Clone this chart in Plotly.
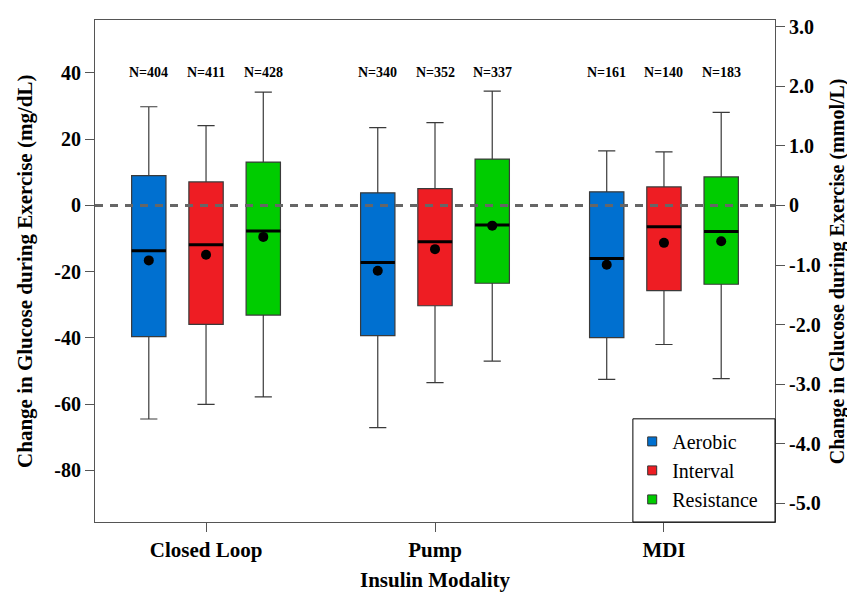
import plotly.graph_objects as go

categories = ["Closed Loop", "Pump", "MDI"]
exercise_types = ["Aerobic", "Interval", "Resistance"]
colors = ["#0070D0", "#EE1D23", "#00CC00"]

aerobic_upper = [29.8, 23.5, 16.5]
aerobic_q3 = [9.0, 3.8, 4.1]
aerobic_median = [-13.7, -17.2, -16.0]
aerobic_mean = [-16.6, -19.7, -17.9]
aerobic_q1 = [-39.6, -39.3, -39.9]
aerobic_lower = [-64.5, -67.1, -52.5]
aerobic_n = [404, 340, 161]

interval_upper = [24.1, 25.0, 16.2]
interval_q3 = [7.1, 5.1, 5.6]
interval_median = [-11.9, -11.0, -6.4]
interval_mean = [-14.9, -13.2, -11.3]
interval_q1 = [-35.9, -30.3, -25.7]
interval_lower = [-60.1, -53.5, -42.0]
interval_n = [411, 352, 140]

resistance_upper = [34.2, 34.5, 28.1]
resistance_q3 = [13.1, 14.0, 8.6]
resistance_median = [-7.7, -5.9, -7.9]
resistance_mean = [-9.5, -6.1, -10.8]
resistance_q1 = [-33.1, -23.5, -23.8]
resistance_lower = [-57.8, -47.0, -52.3]
resistance_n = [428, 337, 183]

left_ticks = [40, 20, 0, -20, -40, -60, -80]
left_tick_labels = ["40", "20", "0", "-20", "-40", "-60", "-80"]
right_ticks = [3, 2, 1, 0, -1, -2, -3, -4, -5]
right_tick_labels = ["3.0", "2.0", "1.0", "0", "-1.0", "-2.0", "-3.0", "-4.0", "-5.0"]
MGDL_PER_MMOL = 18.0
y_range = [-95.6, 56.0]

series = [
    (aerobic_upper, aerobic_q3, aerobic_median, aerobic_mean, aerobic_q1, aerobic_lower, aerobic_n),
    (interval_upper, interval_q3, interval_median, interval_mean, interval_q1, interval_lower, interval_n),
    (resistance_upper, resistance_q3, resistance_median, resistance_mean, resistance_q1, resistance_lower, resistance_n),
]
offsets = [-0.25, 0.0, 0.25]
box_w = 0.15
FONT = "Liberation Serif, Times New Roman, serif"

fig = go.Figure()
annotations = []
for k, (up, q3, med, mean, q1, low, n) in enumerate(series):
    xs = [i + 1 + offsets[k] for i in range(len(categories))]
    fig.add_trace(go.Box(
        x=xs, q1=q1, median=med, q3=q3, lowerfence=low, upperfence=up,
        width=box_w, whiskerwidth=0.5, fillcolor=colors[k],
        line=dict(color="#3a3a3a", width=1.2), showlegend=False,
        boxpoints=False, hoverinfo="skip"))
    mx, my = [], []
    for x, m in zip(xs, med):
        mx += [x - box_w / 2, x + box_w / 2, None]
        my += [m, m, None]
    fig.add_trace(go.Scatter(x=mx, y=my, mode="lines", line=dict(color="black", width=3),
                             showlegend=False, hoverinfo="skip"))
    fig.add_trace(go.Scatter(x=xs, y=mean, mode="markers", marker=dict(color="black", size=10),
                             showlegend=False, hoverinfo="skip"))
    fig.add_trace(go.Scatter(x=xs, y=[v / MGDL_PER_MMOL for v in mean], yaxis="y2", mode="markers",
                             marker=dict(opacity=0), showlegend=False, hoverinfo="skip"))
    fig.add_trace(go.Scatter(x=[None], y=[None], mode="markers", name=exercise_types[k],
                             marker=dict(symbol="square", size=9, color=colors[k],
                                         line=dict(color="#333333", width=1))))
    for x, cnt in zip(xs, n):
        annotations.append(dict(x=x, y=40, xref="x", yref="y", text=f"N={cnt}", showarrow=False,
                                font=dict(family=FONT, size=14, color="black", weight="bold")))

annotations += [
    dict(x=-0.103, y=0.5, xref="paper", yref="paper", text="Change in Glucose during Exercise (mg/dL)",
         textangle=-90, showarrow=False, xanchor="center", yanchor="middle",
         font=dict(family=FONT, size=21, color="black", weight="bold")),
    dict(x=1.0915, y=0.5, xref="paper", yref="paper", text="Change in Glucose during Exercise (mmol/L)",
         textangle=-90, showarrow=False, xanchor="center", yanchor="middle",
         font=dict(family=FONT, size=20, color="black", weight="bold")),
    dict(x=0.5, y=-0.1146, xref="paper", yref="paper", text="Insulin Modality", xanchor="center",
         yanchor="middle", showarrow=False, font=dict(family=FONT, size=21, color="black", weight="bold")),
]

axis_common = dict(showgrid=False, zeroline=False, showline=True, linecolor="#555555", linewidth=1,
                   ticks="outside", ticklen=9, tickcolor="#555555")
tick_font = dict(family=FONT, size=20, color="black", weight="bold")

fig.update_layout(
    width=855, height=584,
    margin=dict(l=87, r=88, t=8, b=70),
    paper_bgcolor="white", plot_bgcolor="white",
    boxmode="overlay",
    xaxis=dict(range=[0.515, 3.485], tickvals=[1, 2, 3], ticktext=categories, mirror=True,
               tickfont=dict(family=FONT, size=21, color="black", weight="bold"), **axis_common),
    yaxis=dict(range=y_range, tickvals=left_ticks, ticktext=left_tick_labels, mirror=True,
               tickfont=tick_font, **axis_common),
    yaxis2=dict(range=[v / MGDL_PER_MMOL for v in y_range], tickvals=right_ticks, ticktext=right_tick_labels,
                overlaying="y", side="right", tickfont=tick_font, **axis_common),
    annotations=annotations,
    shapes=[
        dict(type="line", xref="paper", yref="y", x0=0, x1=1, y0=0, y1=0, layer="above",
             line=dict(color="#666666", width=3, dash="8px,7px")),
        dict(type="rect", xref="paper", yref="paper", x0=0.791, x1=1, y0=0, y1=0.2055, layer="above",
             line=dict(color="black", width=1), fillcolor="rgba(0,0,0,0)"),
    ],
    legend=dict(x=0.79, xanchor="left", y=0.1028, yanchor="middle", bgcolor="rgba(0,0,0,0)",
                borderwidth=0, font=dict(family=FONT, size=20, color="black"), tracegroupgap=0),
    showlegend=True,
)

fig.write_html("out.html")
